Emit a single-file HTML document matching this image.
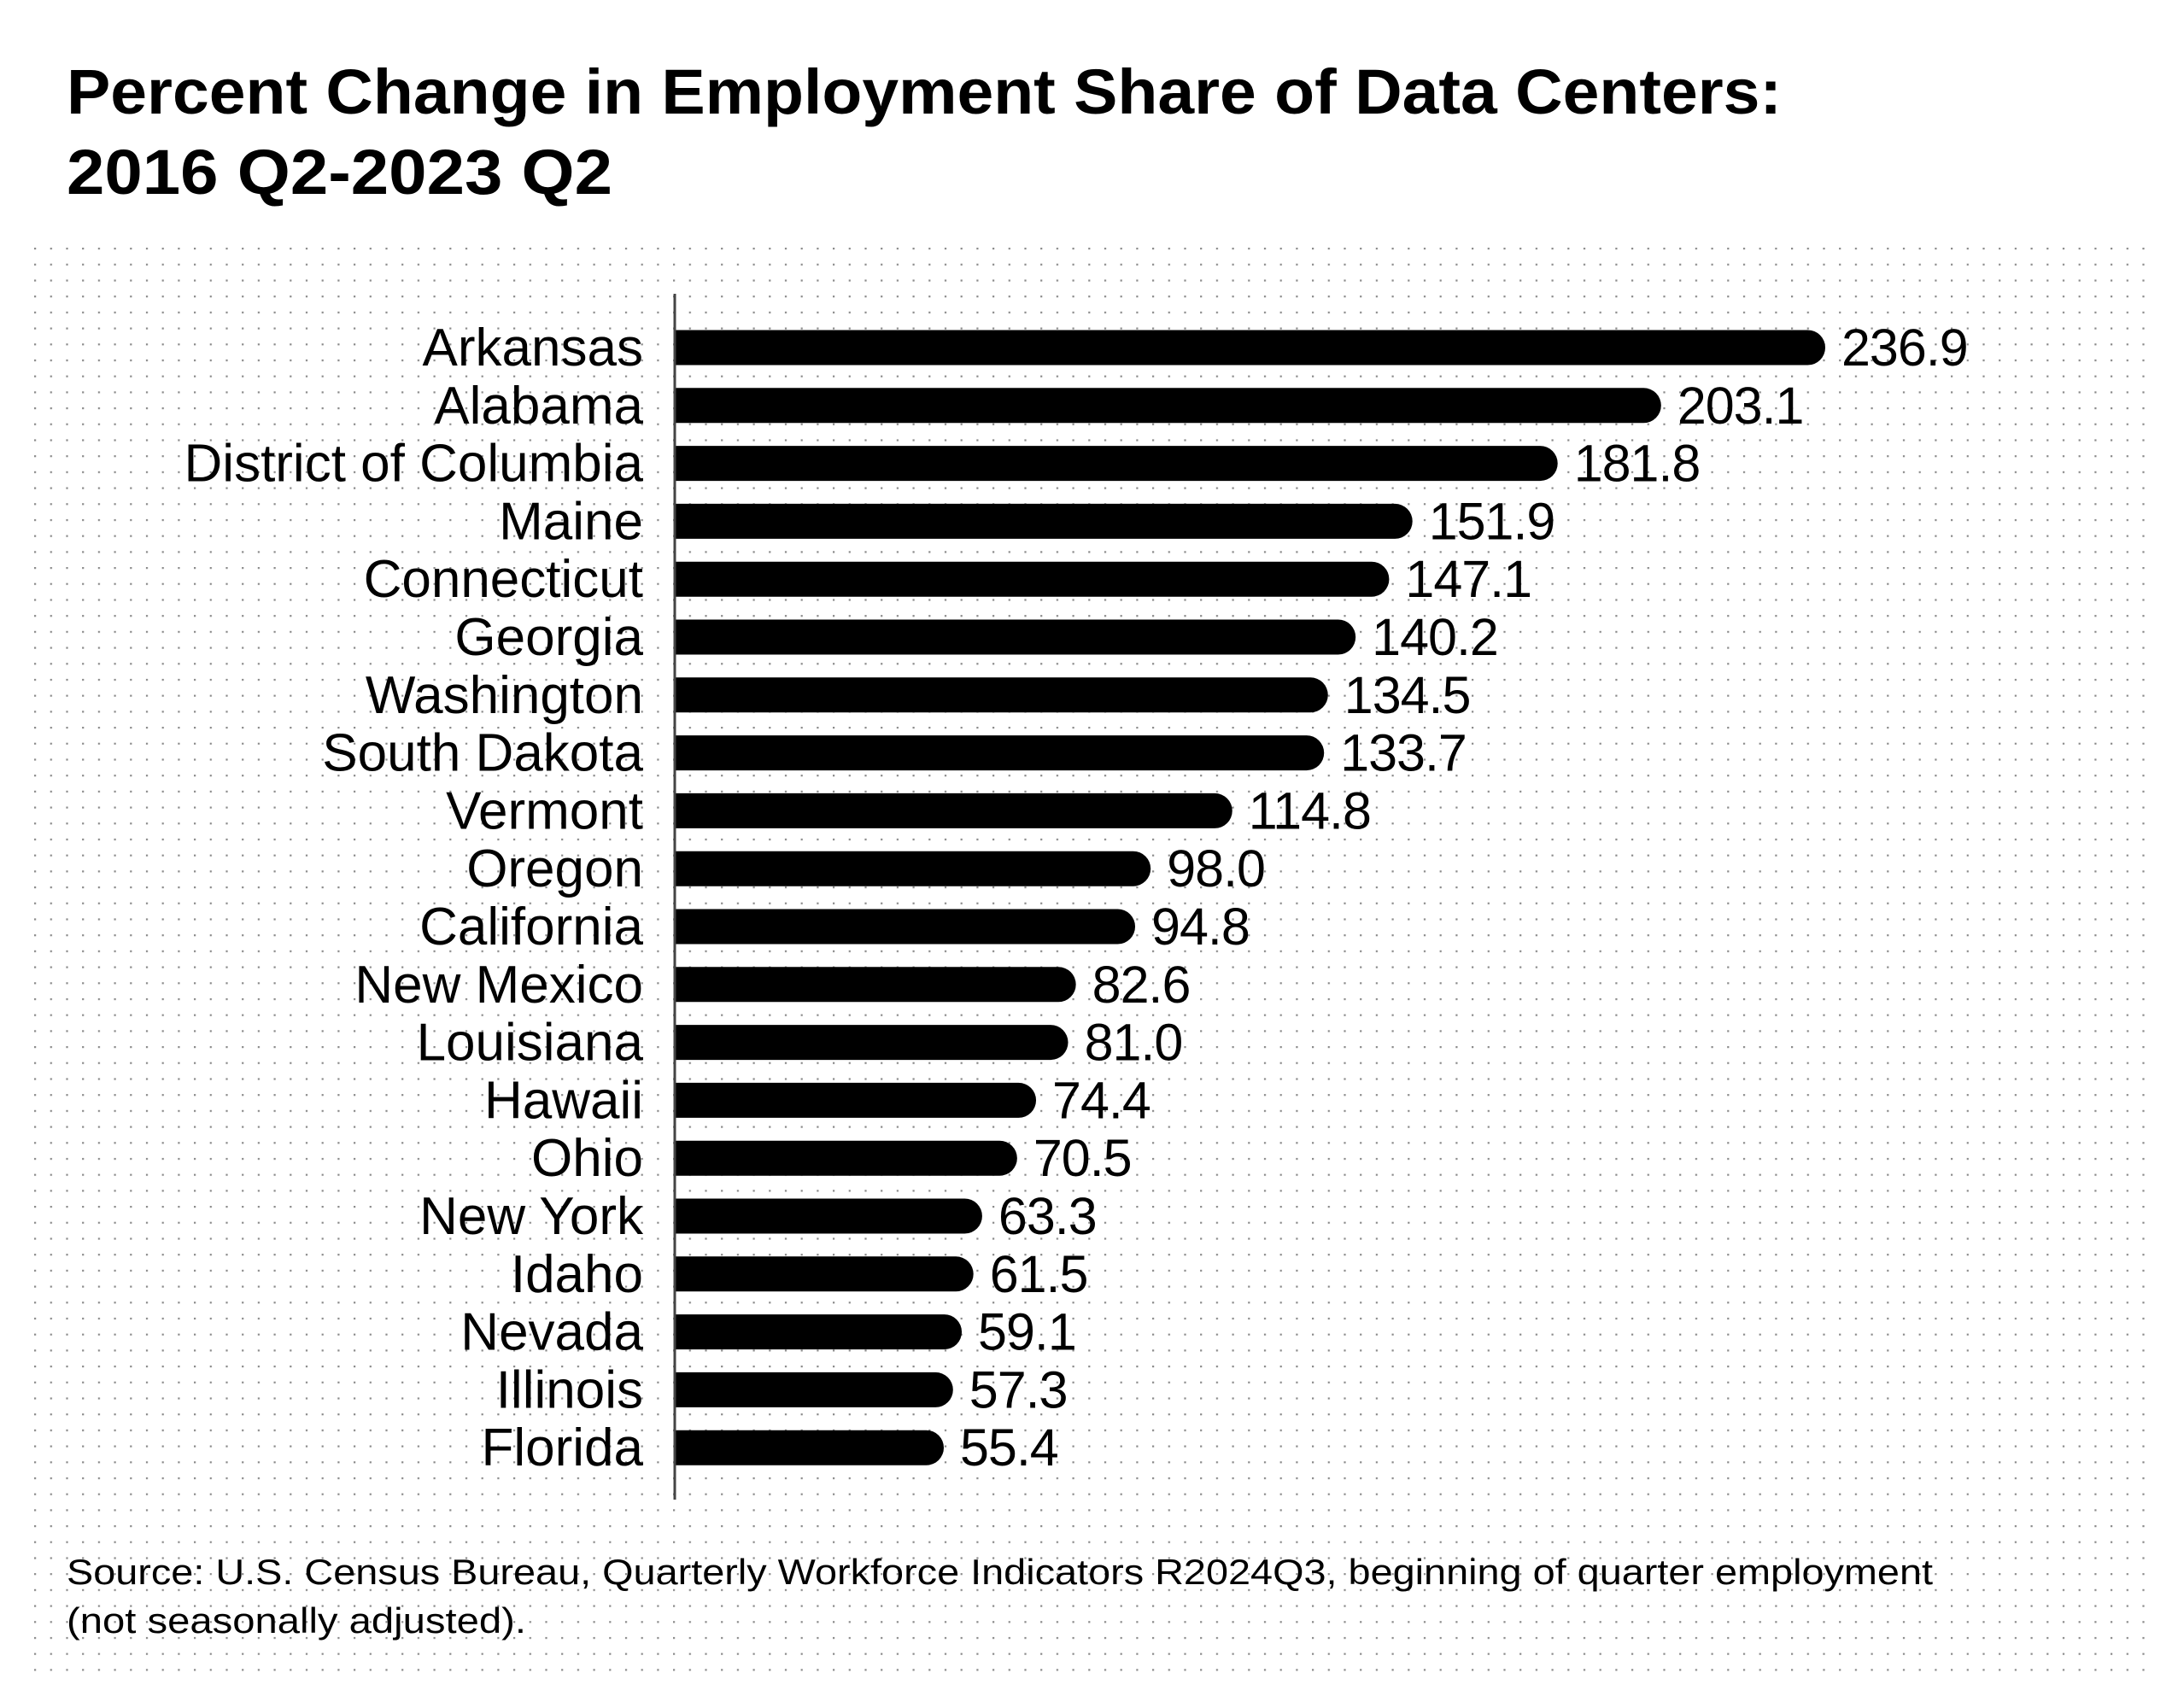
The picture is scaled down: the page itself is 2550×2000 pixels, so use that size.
<!DOCTYPE html>
<html><head><meta charset="utf-8"><style>
html,body{margin:0;padding:0;background:#fff;}
svg{display:block;font-family:"Liberation Sans",sans-serif;}
</style></head><body>
<svg id="chart" width="2550" height="2000" viewBox="0 0 2550 2000">
<defs><pattern id="dots" x="40" y="290" width="18.7" height="18.7" patternUnits="userSpaceOnUse"><rect x="0" y="0" width="2.2" height="2.2" fill="#8a8a8a"/></pattern></defs>
<rect x="40" y="290" width="2475" height="1680" fill="url(#dots)"/>
<text x="78" y="133" font-size="74" font-weight="bold" textLength="2008" lengthAdjust="spacingAndGlyphs">Percent Change in Employment Share of Data Centers:</text>
<text x="78" y="227" font-size="74" font-weight="bold" textLength="639" lengthAdjust="spacingAndGlyphs">2016 Q2-2023 Q2</text>
<g id="bars"></g>
<line x1="790" y1="344" x2="790" y2="1756" stroke="#444" stroke-width="3"/>
<text x="78" y="1855" font-size="42" textLength="2185" lengthAdjust="spacingAndGlyphs">Source: U.S. Census Bureau, Quarterly Workforce Indicators R2024Q3, beginning of quarter employment</text>
<text x="78" y="1912" font-size="42" textLength="538" lengthAdjust="spacingAndGlyphs">(not seasonally adjusted).</text>
</svg>
<script>
const states = ["Arkansas","Alabama","District of Columbia","Maine","Connecticut","Georgia","Washington","South Dakota","Vermont","Oregon","California","New Mexico","Louisiana","Hawaii","Ohio","New York","Idaho","Nevada","Illinois","Florida"];
const values = [236.9,203.1,181.8,151.9,147.1,140.2,134.5,133.7,114.8,98.0,94.8,82.6,81.0,74.4,70.5,63.3,61.5,59.1,57.3,55.4];
const labels = ["236.9","203.1","181.8","151.9","147.1","140.2","134.5","133.7","114.8","98.0","94.8","82.6","81.0","74.4","70.5","63.3","61.5","59.1","57.3","55.4"];

const NS = "http://www.w3.org/2000/svg";
const x0 = 790, pxPerUnit = 5.686;
const xScale = v => x0 + v * pxPerUnit;
const y0 = 407, step = 67.8, barH = 41;
const yScale = i => y0 + i * step;
const g = document.getElementById('bars');
states.forEach((s, i) => {
  const cy = yScale(i);
  const xe = xScale(values[i]);
  const r = barH / 2;
  const p = document.createElementNS(NS, 'path');
  p.setAttribute('d', `M${x0},${cy - r} H${xe - r} A${r},${r} 0 0 1 ${xe - r},${cy + r} H${x0} Z`);
  p.setAttribute('fill', '#000');
  
  
  g.appendChild(p);
  const t = document.createElementNS(NS, 'text');
  t.setAttribute('x', 753);
  t.setAttribute('y', cy + 21);
  t.setAttribute('text-anchor', 'end');
  t.setAttribute('font-size', '62');
  t.textContent = s;
  
  
  g.appendChild(t);
  const v = document.createElementNS(NS, 'text');
  v.setAttribute('x', xe + 19);
  v.setAttribute('y', cy + 21);
  v.setAttribute('font-size', '61');
  v.setAttribute('letter-spacing', '-1');
  v.textContent = labels[i];
  
  
  g.appendChild(v);
});
</script>
</body></html>
